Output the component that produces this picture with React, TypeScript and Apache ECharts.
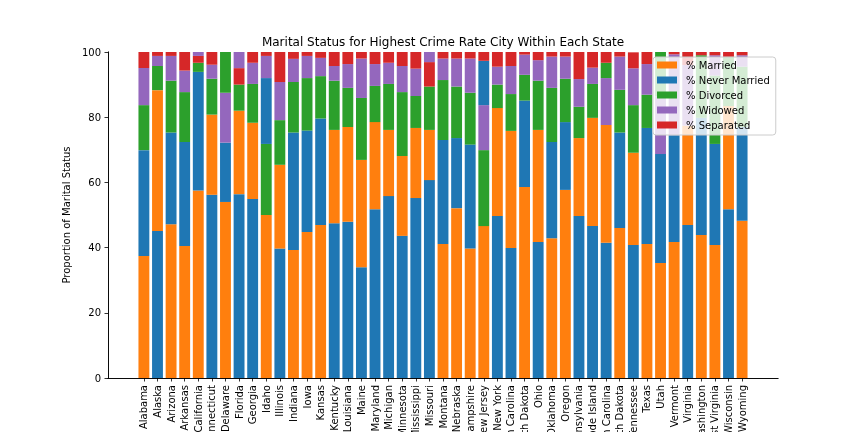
import React, { useEffect, useRef } from 'react';
import * as echarts from 'echarts';

const states = [
  'Alabama', 'Alaska', 'Arizona', 'Arkansas', 'California', 'Connecticut', 'Delaware', 'Florida', 'Georgia',
  'Idaho', 'Illinois', 'Indiana', 'Iowa', 'Kansas', 'Kentucky', 'Louisiana', 'Maine', 'Maryland', 'Michigan',
  'Minnesota', 'Mississippi', 'Missouri', 'Montana', 'Nebraska', 'New Hampshire', 'New Jersey', 'New York',
  'North Carolina', 'North Dakota', 'Ohio', 'Oklahoma', 'Oregon', 'Pennsylvania', 'Rhode Island',
  'South Carolina', 'South Dakota', 'Tennessee', 'Texas', 'Utah', 'Vermont', 'Virginia', 'Washington',
  'West Virginia', 'Wisconsin', 'Wyoming',
];

const married = [
  37.4, 43.2, 47.2, 40.5, 57.5, 24.6, 54.0, 25.6, 23.4, 50.0, 25.7, 39.3, 44.8, 46.9, 28.6, 29.1, 32.9, 26.7,
  20.3, 24.5, 21.5, 15.4, 41.1, 52.1, 39.7, 46.6, 33.1, 35.9, 58.6, 34.4, 42.9, 57.7, 23.9, 33.2, 36.1, 46.0,
  28.3, 41.1, 35.3, 41.7, 30.5, 43.9, 40.8, 31.6, 48.2,
];
const neverMarried = [
  32.5, 45.1, 28.1, 31.9, 36.4, 56.2, 18.2, 56.4, 54.9, 20.2, 39.7, 36.0, 31.1, 32.7, 47.5, 47.9, 34.0, 51.8,
  55.8, 43.6, 55.2, 60.7, 31.9, 21.5, 31.9, 13.6, 49.7, 39.9, 26.5, 41.7, 29.5, 20.8, 49.7, 46.6, 41.5, 29.3,
  40.8, 35.6, 33.4, 32.8, 46.9, 35.9, 31.0, 51.8, 28.8,
];
const divorced = [
  13.8, 7.4, 15.9, 15.3, 2.8, 11.0, 12.5, 8.0, 11.9, 21.8, 13.7, 15.5, 16.1, 13.0, 15.1, 12.0, 19.0, 11.1,
  14.1, 19.6, 9.8, 13.3, 18.4, 15.8, 15.9, 23.3, 7.2, 11.3, 7.9, 15.1, 16.6, 13.3, 9.6, 10.4, 4.7, 13.1,
  14.6, 10.2, 13.6, 0.0, 0.0, 19.2, 21.0, 15.1, 18.5,
];
const widowed = [
  11.4, 3.1, 7.6, 6.6, 1.2, 4.3, 15.3, 4.95, 6.5, 6.8, 11.7, 7.1, 6.8, 5.6, 4.5, 7.3, 12.1, 6.7,
  6.5, 8.0, 8.4, 3.1, 6.6, 8.6, 10.5, 13.8, 5.5, 8.6, 6.2, 6.3, 9.6, 6.8, 8.5, 5.0, 14.4, 10.2,
  11.3, 9.4, 17.7, 24.8, 18.6, 0.0, 6.2, 0.0, 3.5,
];
const separated = [
  4.9, 1.2, 1.2, 5.7, 2.1, 3.9, 0.0, 5.05, 3.3, 1.2, 9.2, 2.1, 1.2, 1.8, 4.3, 3.7, 2.0, 3.7,
  3.3, 4.3, 5.1, 7.5, 2.0, 2.0, 2.0, 2.7, 4.5, 4.3, 0.8, 2.5, 1.4, 1.4, 8.3, 4.8, 3.3, 1.4,
  4.9, 3.7, 0.0, 0.7, 4.0, 1.0, 1.0, 1.5, 1.0,
];

const seriesNames = ['% Married', '% Never Married', '% Divorced', '% Widowed', '% Separated'];
const seriesColors = ['#ff7f0e', '#1f77b4', '#2ca02c', '#9467bd', '#d62728'];
const yTicks = [0, 20, 40, 60, 80, 100];

const FONT = 'DejaVu Sans';

export default function App() {
  const ref = useRef<HTMLDivElement>(null);

  useEffect(() => {
    if (!ref.current) return;
    const chart = echarts.init(ref.current, null, { renderer: 'svg' });
    const columns = [married, neverMarried, divorced, widowed, separated];

    // Each bar stacks its segments from largest (bottom) to smallest (top).
    const ranked: any[][] = [[], [], [], [], []];
    states.forEach((_, i) => {
      const order = [0, 1, 2, 3, 4].sort((a, b) => columns[b][i] - columns[a][i]);
      order.forEach((k, r) => {
        ranked[r].push({ value: columns[k][i], itemStyle: { color: seriesColors[k] } });
      });
    });

    const rankSeries = ranked.map((data, r) => ({
      name: 'rank' + r,
      type: 'bar',
      stack: 'total',
      xAxisIndex: 2,
      yAxisIndex: 2,
      barWidth: '80%',
      data,
    }));
    const legendSeries = seriesNames.map((name, k) => ({
      name,
      type: 'bar',
      stack: 'total',
      xAxisIndex: 2,
      yAxisIndex: 2,
      barWidth: '80%',
      itemStyle: { color: seriesColors[k] },
      data: [],
    }));

    const frameLine = { show: true, lineStyle: { color: '#000', width: 0.8 } };

    chart.setOption({
      animation: false,
      textStyle: { fontFamily: FONT },
      graphic: [
        {
          type: 'text',
          x: 443,
          y: 42,
          style: {
            text: 'Marital Status for Highest Crime Rate City Within Each State',
            fontFamily: FONT,
            fontSize: 12,
            fill: '#000',
            align: 'center',
            verticalAlign: 'middle',
          },
        },
      ],
      grid: [
        { left: 108, top: 52, width: 670, height: 326, outerBoundsMode: 'none', containLabel: false },
        { left: 137.1, top: 52, width: 611.8, height: 326, outerBoundsMode: 'none', containLabel: false },
      ],
      legend: {
        orient: 'vertical',
        left: 653,
        top: 57,
        data: seriesNames,
        icon: 'rect',
        itemWidth: 20,
        itemHeight: 7,
        itemGap: 3,
        padding: [2, 6, 4, 4],
        backgroundColor: 'rgba(255,255,255,0.8)',
        borderColor: '#cccccc',
        borderWidth: 1,
        borderRadius: 3,
        selectedMode: false,
        textStyle: { fontSize: 10, lineHeight: 12, color: '#000', fontFamily: FONT, padding: [0, 0, 0, 4] },
      },
      xAxis: [
        {
          gridIndex: 0, type: 'value', min: 0, max: 1, position: 'bottom', z: 10,
          axisLine: frameLine, axisTick: { show: false }, axisLabel: { show: false }, splitLine: { show: false },
        },
        {
          gridIndex: 0, type: 'value', min: 0, max: 1, position: 'top', z: 10,
          axisLine: frameLine, axisTick: { show: false }, axisLabel: { show: false }, splitLine: { show: false },
        },
        {
          gridIndex: 1, type: 'category', data: states, position: 'bottom',
          axisLine: { show: false },
          axisTick: { show: true, alignWithLabel: true, length: 3.5, lineStyle: { color: '#000', width: 0.8 } },
          axisLabel: { interval: 0, rotate: 90, margin: 7, fontSize: 10, color: '#000', fontFamily: FONT },
          splitLine: { show: false },
        },
      ],
      yAxis: [
        {
          gridIndex: 0, type: 'value', min: yTicks[0], max: yTicks[yTicks.length - 1], interval: 20,
          position: 'left', z: 10,
          name: 'Proportion of Marital Status', nameLocation: 'middle', nameGap: 28,
          nameTextStyle: { fontSize: 10, color: '#000', fontFamily: FONT },
          axisLine: frameLine,
          axisTick: { show: true, length: 3.5, lineStyle: { color: '#000', width: 0.8 } },
          axisLabel: { margin: 7, fontSize: 10, color: '#000', fontFamily: FONT },
          splitLine: { show: false },
        },
        {
          gridIndex: 0, type: 'value', min: 0, max: 100, position: 'right', z: 10,
          axisLine: frameLine, axisTick: { show: false }, axisLabel: { show: false }, splitLine: { show: false },
        },
        {
          gridIndex: 1, type: 'value', min: 0, max: 100, show: false,
          splitLine: { show: false },
        },
      ],
      series: [...rankSeries, ...legendSeries],
    });

    return () => chart.dispose();
  }, []);

  return <div ref={ref} style={{ position: 'fixed', left: 0, top: 0, width: 864, height: 432 }} />;
}
